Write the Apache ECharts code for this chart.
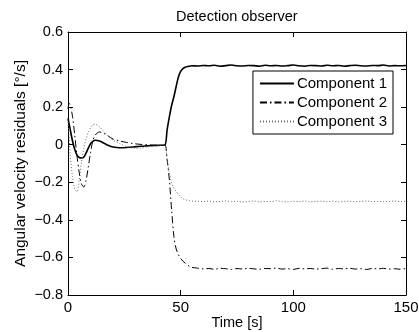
<!DOCTYPE html>
<html>
<head>
<meta charset="utf-8">
<script src="https://cdn.jsdelivr.net/npm/echarts@6/dist/echarts.min.js"></script>
<style>html,body{margin:0;padding:0;background:#fff}#c{width:419px;height:332px}</style>
</head>
<body>
<div id="c"></div>
<script>
const titleText = 'Detection observer';
const xName = 'Time [s]';
const yName = 'Angular velocity residuals [°/s]';
const seriesNames = ['Component 1', 'Component 2', 'Component 3'];

const time = [0, 0.5, 1, 2, 3, 4, 5, 6, 7, 8, 9, 10, 11, 12, 14, 16, 18, 20, 23, 26, 29, 32, 35, 38, 41,
  43, 44, 45, 46, 47, 48, 49, 50, 51, 52, 53, 54, 55,
  57.5, 60, 62.5, 65, 67.5, 70, 72.5, 75, 77.5, 80, 82.5, 85, 87.5, 90, 92.5, 95, 97.5, 100,
  102.5, 105, 107.5, 110, 112.5, 115, 117.5, 120, 122.5, 125, 127.5, 130, 132.5, 135, 137.5, 140,
  142.5, 145, 147.5, 150];

const comp1 = [0.14, 0.11, 0.08, 0.02, -0.025, -0.055, -0.068, -0.07, -0.066, -0.045, -0.018, 0.005, 0.018, 0.024,
  0.02, 0.008, -0.004, -0.012, -0.016, -0.015, -0.012, -0.008, -0.006, -0.004, -0.003,
  -0.002, 0.08, 0.15, 0.21, 0.255, 0.31, 0.36, 0.39, 0.405, 0.412, 0.416, 0.418, 0.42,
  0.419, 0.422, 0.420, 0.423, 0.418, 0.421, 0.424, 0.420, 0.419, 0.422,
  0.421, 0.418, 0.423, 0.420, 0.422, 0.419, 0.421, 0.424, 0.420, 0.418,
  0.422, 0.421, 0.419, 0.423, 0.420, 0.422, 0.418, 0.421, 0.423, 0.420,
  0.419, 0.422, 0.421, 0.424, 0.419, 0.421, 0.420, 0.422];

const comp2 = [0.19, 0.22, 0.21, 0.15, 0.05, -0.06, -0.15, -0.21, -0.225, -0.19, -0.12, -0.04, 0.02, 0.05,
  0.068, 0.06, 0.045, 0.03, 0.02, 0.012, 0.006, 0.002, 0.0, -0.002, -0.003,
  -0.002, -0.08, -0.19, -0.35, -0.49, -0.555, -0.585, -0.605, -0.62, -0.63, -0.64, -0.648, -0.653,
  -0.657, -0.661, -0.659, -0.663, -0.658, -0.660, -0.664, -0.659, -0.662, -0.658,
  -0.661, -0.663, -0.659, -0.660, -0.657, -0.662, -0.660, -0.664, -0.658, -0.661,
  -0.659, -0.662, -0.660, -0.657, -0.663, -0.659, -0.661, -0.658, -0.662, -0.660,
  -0.664, -0.659, -0.661, -0.658, -0.662, -0.660, -0.663, -0.659];

const comp3 = [0.12, 0.05, -0.06, -0.17, -0.235, -0.25, -0.19, -0.09, -0.02, 0.03, 0.065, 0.09, 0.105, 0.11,
  0.095, 0.07, 0.045, 0.025, 0.005, -0.01, -0.018, -0.018, -0.012, -0.008, -0.004,
  -0.003, -0.08, -0.15, -0.205, -0.23, -0.25, -0.265, -0.278, -0.287, -0.292, -0.296, -0.298, -0.3,
  -0.301, -0.303, -0.300, -0.304, -0.302, -0.299, -0.303, -0.301, -0.305, -0.302,
  -0.300, -0.304, -0.302, -0.303, -0.299, -0.302, -0.305, -0.301, -0.303, -0.300,
  -0.304, -0.302, -0.301, -0.303, -0.300, -0.305, -0.302, -0.301, -0.304, -0.302,
  -0.300, -0.303, -0.301, -0.304, -0.302, -0.300, -0.303, -0.301];

const FONT = "'Liberation Sans', Arial, sans-serif";
const pairs = arr => time.map((t, i) => [t, arr[i]]);
const fmtY = v => {
  const r = Math.round(v * 10) / 10;
  if (r === 0) return '0';
  return (r < 0 ? '\u2212' : '') + Math.abs(r).toFixed(1);
};

const chart = echarts.init(document.getElementById('c'), null, {renderer: 'canvas'});
const axisCommon = {
  axisLine: {show: true, onZero: false, lineStyle: {color: '#000', width: 1}},
  axisTick: {show: true, inside: true, length: 5, lineStyle: {color: '#000'}},
  splitLine: {show: false}
};
chart.setOption({
  animation: false,
  backgroundColor: '#fff',
  title: {
    text: titleText, left: 171, top: 4,
    textStyle: {fontFamily: FONT, fontSize: 14.5, fontWeight: 'normal', color: '#000'}
  },
  grid: {left: 68, right: 13, top: 32, bottom: 37, containLabel: false, outerBoundsMode: 'none'},
  legend: {
    data: seriesNames, orient: 'vertical', right: 26, top: 71,
    backgroundColor: '#fff', borderColor: '#000', borderWidth: 1,
    padding: [5, 6, 5, 6], itemGap: 4, itemWidth: 34, itemHeight: 16,
    itemStyle: {opacity: 0},
    textStyle: {fontFamily: FONT, fontSize: 15, color: '#000', padding: [0, 0, 0, -2]}
  },
  xAxis: [
    Object.assign({}, axisCommon, {
      type: 'value', position: 'bottom', min: 0, max: 150, interval: 50,
      name: xName, nameLocation: 'middle', nameGap: 20, nameMoveOverlap: false,
      nameTextStyle: {fontFamily: FONT, fontSize: 14.5, color: '#000'},
      axisLabel: {fontFamily: FONT, fontSize: 15, color: '#000', margin: 5}
    }),
    Object.assign({}, axisCommon, {
      type: 'value', position: 'top', min: 0, max: 150, interval: 50,
      axisLabel: {show: false}
    })
  ],
  yAxis: [
    Object.assign({}, axisCommon, {
      type: 'value', position: 'left', min: -0.8, max: 0.6, interval: 0.2,
      name: yName, nameLocation: 'middle', nameGap: 39, nameRotate: 90, nameMoveOverlap: false,
      nameTextStyle: {fontFamily: FONT, fontSize: 15.5, color: '#000'},
      axisLabel: {fontFamily: FONT, fontSize: 14.5, color: '#000', margin: 5, formatter: fmtY}
    }),
    Object.assign({}, axisCommon, {
      type: 'value', position: 'right', min: -0.8, max: 0.6, interval: 0.2,
      axisLabel: {show: false}
    })
  ],
  series: [
    {name: seriesNames[0], type: 'line', data: pairs(comp1), symbol: 'none', smooth: 0.3,
     lineStyle: {color: '#000', width: 1.6, type: 'solid'}, itemStyle: {color: '#000'}},
    {name: seriesNames[1], type: 'line', data: pairs(comp2), symbol: 'none', smooth: 0.3,
     lineStyle: {color: '#000', width: 1, type: [7, 3, 1.5, 3]}, itemStyle: {color: '#000'}},
    {name: seriesNames[2], type: 'line', data: pairs(comp3), symbol: 'none', smooth: 0.3,
     lineStyle: {color: '#666', width: 1, type: [1, 2]}, itemStyle: {color: '#666'}}
  ]
});
</script>
</body>
</html>
